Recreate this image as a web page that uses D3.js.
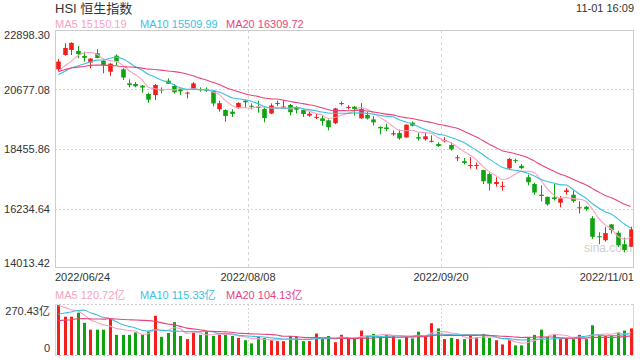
<!DOCTYPE html>
<html><head><meta charset="utf-8">
<script src="https://cdn.jsdelivr.net/npm/d3@7"></script>
<style>
body{margin:0;background:#fff}
svg{display:block}
text{font-family:Arial,"Liberation Sans","Noto Sans CJK SC",sans-serif}
</style>
</head><body>
<svg id="c" width="640" height="360"></svg>
<script>
// ---------- DATA ----------
const dates = [
"2022/06/24","2022/06/27","2022/06/28","2022/06/29","2022/06/30",
"2022/07/04","2022/07/05","2022/07/06","2022/07/07","2022/07/08",
"2022/07/11","2022/07/12","2022/07/13","2022/07/14","2022/07/15",
"2022/07/18","2022/07/19","2022/07/20","2022/07/21","2022/07/22",
"2022/07/25","2022/07/26","2022/07/27","2022/07/28","2022/07/29",
"2022/08/01","2022/08/02","2022/08/03","2022/08/04","2022/08/05",
"2022/08/08","2022/08/09","2022/08/10","2022/08/11","2022/08/12",
"2022/08/15","2022/08/16","2022/08/17","2022/08/18","2022/08/19",
"2022/08/22","2022/08/23","2022/08/24","2022/08/25","2022/08/26",
"2022/08/29","2022/08/30","2022/08/31","2022/09/01","2022/09/02",
"2022/09/05","2022/09/06","2022/09/07","2022/09/08","2022/09/09",
"2022/09/13","2022/09/14","2022/09/15","2022/09/16",
"2022/09/19","2022/09/20","2022/09/21","2022/09/22","2022/09/23",
"2022/09/26","2022/09/27","2022/09/28","2022/09/29","2022/09/30",
"2022/10/03","2022/10/05","2022/10/06","2022/10/07",
"2022/10/10","2022/10/11","2022/10/12","2022/10/13","2022/10/14",
"2022/10/17","2022/10/18","2022/10/19","2022/10/20","2022/10/21",
"2022/10/24","2022/10/25","2022/10/26","2022/10/27","2022/10/28",
"2022/10/31","2022/11/01"];

const open = [21431,21965,22151,22114,21928, 21680,22029,21752,21341,21941,
21430,20907,20882,20820,20508, 20470,20680,21006,20808,20683,
20540,20658,20690,20700,20620, 19940,19912,19850,20010,20260,
20070,20030,19950,19780,20150, 20020,20098,20010,19912,19700,
19640,19600,19525,19420,20140, 20000,20035,19600,19725,19560,
19280,19260,19000,19050,18890, 19440,18900,18820,18740,
18640,18740,18605,18120,18000, 17820,17830,17670,17520,17150,
17050,17735,18040,17830, 17400,17150,16750,16670,16650,
16450,16850,16750,16260,16300, 15870,15200,15050,15640,15330,
14900,14810];
const high = [21820,22400,22440,22300,22088, 21842,22177,21778,21655,21990,
21468,21056,20957,20845,20558, 20880,20757,21093,20882,20720,
20595,20957,20757,20760,20640, 20260,19937,19937,20200,20284,
20160,20260,20000,20160,20260, 20260,20136,20060,19937,19850,
19800,19700,19560,19990,20230, 20090,20060,20170,19850,19680,
19300,19400,19150,19180,19380, 19480,19060,19060,18965,
18700,18900,18700,18230,18120, 18150,17950,17680,17580,17400,
17250,18120,18100,17900, 17500,17200,17100,16680,17150,
16700,17000,16900,16500,16330, 15950,15350,15550,15650,15400,
15150,15550];
const low = [21330,21940,21965,21841,21715, 21468,21842,21281,21181,21580,
21031,20757,20757,20558,20184, 20285,20533,20882,20533,20470,
20346,20658,20595,20590,20050, 19850,19476,19650,19960,20010,
19937,19810,19450,19760,20060, 19980,19712,19780,19650,19660,
19575,19330,19150,19380,20080, 19930,19700,19580,19560,19330,
19000,19120,18950,18800,18870, 19300,18770,18770,18700,
18540,18700,18400,18000,17880, 17725,17700,17150,16900,17050,
16900,17700,17930,17700, 17100,16750,16500,16340,16530,
16280,16750,16450,16050,16150, 15100,14900,15000,15300,14800,
14600,14800];
const close = [21719,22229,22418,21996,21860, 21830,21853,21587,21643,21725,
21124,20845,20797,20751,20297, 20846,20661,20890,20575,20609,
20562,20905,20670,20622,20156, 20165,19689,19767,20174,20201,
20045,20003,19610,20082,20175, 20040,19830,19922,19763,19773,
19656,19503,19268,19968,20170, 20023,19949,19954,19597,19452,
19225,19202,19044,18854,19362, 19326,18847,18930,18762,
18565,18781,18444,18147,17933, 17855,17860,17250,17165,17223,
17079,18087,18012,17740, 17216,16832,16701,16389,16587,
16612,16914,16511,16280,16211, 15180,15165,15317,15428,14863,
14687,15455];
// closes of the 19 sessions before the first date (needed for the moving averages)
const preClose = [20697,21124,21415,21294,21082,21653,21531,22014,21869,21806,
21067,21068,21308,21075,21075,21164,21559,21008,21273];

const volume = [270.43,207,207,229,174, 137,137,137,199,109,
109,109,122,109,128, 212,98,119,178,103,
86,122,109,128,103, 109,109,103,92,80,
63,98,92,80,75, 75,103,98,75,75,
116,90,103,69,109, 90,90,132,103,114,
103,109,103,84,103, 90,126,103,172,
144,86,92,86,86, 103,96,114,92,80,
57,80,52,52, 96,109,137,98,114,
86,92,86,109,86, 161,109,103,103,122,
132,144];
// turnover of the 19 sessions before the first date (for the volume averages)
const preVolume = [140,160,130,150,170,145,155,135,165,150,
140,150,145,155,280,250,270,260,280];

const dateTicks = ["2022/06/24","2022/08/08","2022/09/20","2022/11/01"];
const priceTicks = [22898.30,20677.08,18455.86,16234.64,14013.42];
const volTicks = ["270.43亿","0"];
const maNames = ["MA5","MA10","MA20"];
const maPeriods = [5,10,20];
const maLast = ["15150.19","15509.99","16309.72"];
const volMaLast = ["120.72亿","115.33亿","104.13亿"];
const titleText = "HSI 恒生指数";
const timeText = "11-01 16:09";

// ---------- STYLE ----------
const RED = "#f31f1c", GREEN = "#0fa30f";
const maColors = ["#f7a1c4","#3ec0e2","#e8457e"];
const L = 55, R = 634, T = 30, B = 268;
const VT = 305, VB = 355;

const svg = d3.select("#c");
const x = d3.scaleBand().domain(dates).range([L, R]);
const bw = x.bandwidth();
const cx = d => x(d) + bw / 2;
const y = d3.scaleLinear().domain([priceTicks[4], priceTicks[0]]).range([B, T]);
const vy = d3.scaleLinear().domain([0, 270.43]).range([VB, VT]);

const rows = dates.map((d, i) => ({d, o: open[i], h: high[i], l: low[i], c: close[i], v: volume[i]}));
const up = r => r.c >= r.o;

function ma(series, pre, n) {
  const all = pre.concat(series);
  return series.map((_, i) => {
    const end = i + pre.length;
    return d3.mean(all.slice(end - n + 1, end + 1));
  });
}

// ---------- HEADER ----------
svg.append("text").attr("x", L).attr("y", 13).attr("font-size", 13).attr("fill", "#333").text(titleText);
svg.append("text").attr("x", R).attr("y", 12).attr("text-anchor", "end").attr("font-size", 11).attr("fill", "#333").text(timeText);

const legX = [55, 140, 226];
maNames.forEach((n, k) => {
  svg.append("text").attr("x", legX[k]).attr("y", 28).attr("font-size", 11).attr("fill", maColors[k]).text(n + " " + maLast[k]);
  svg.append("text").attr("x", legX[k]).attr("y", 299).attr("font-size", 11).attr("fill", maColors[k]).text(n + " " + volMaLast[k]);
});

// ---------- PRICE PANEL ----------
// grid
const gridIdx = [dates.indexOf(dateTicks[1]), dates.indexOf(dateTicks[2])];
priceTicks.slice(1, 4).forEach(t => {
  svg.append("line").attr("x1", L).attr("x2", R).attr("y1", Math.round(y(t)) + 0.5).attr("y2", Math.round(y(t)) + 0.5)
    .attr("stroke", "#d6d6d6").attr("stroke-dasharray", "2,2");
});
gridIdx.forEach(i => {
  const gx = Math.round(x(dates[i])) + 0.5;
  svg.append("line").attr("x1", gx).attr("x2", gx).attr("y1", T).attr("y2", B).attr("stroke", "#d6d6d6").attr("stroke-dasharray", "3,3");
  svg.append("line").attr("x1", gx).attr("x2", gx).attr("y1", VT - 1).attr("y2", VB).attr("stroke", "#d6d6d6").attr("stroke-dasharray", "2,2");
});

// watermark
svg.append("text").attr("x", 632).attr("y", 252).attr("text-anchor", "end").attr("font-size", 12).attr("fill", "#cfcfcf").text("sina.com");

// candles
const cw = 4.6;
const cg = svg.append("g");
cg.selectAll("line").data(rows).join("line")
  .attr("x1", r => Math.round(cx(r.d)) + 0.5).attr("x2", r => Math.round(cx(r.d)) + 0.5)
  .attr("y1", r => y(r.h)).attr("y2", r => y(r.l))
  .attr("stroke", r => up(r) ? RED : GREEN).attr("stroke-width", 1);
cg.selectAll("rect").data(rows).join("rect")
  .attr("x", r => Math.round(cx(r.d)) + 0.5 - cw / 2).attr("width", cw)
  .attr("y", r => y(Math.max(r.o, r.c)))
  .attr("height", r => Math.max(1, Math.abs(y(r.o) - y(r.c))))
  .attr("fill", r => up(r) ? RED : GREEN);

// MA lines (price)
svg.append("clipPath").attr("id", "pc").append("rect").attr("x", L).attr("y", T).attr("width", R - L).attr("height", B - T);
maPeriods.forEach((n, k) => {
  const vals = ma(close, preClose, n);
  const line = d3.line().x((v, i) => cx(dates[i])).y(v => y(v)).curve(d3.curveMonotoneX);
  svg.append("path").attr("d", line(vals)).attr("fill", "none").attr("stroke", maColors[k]).attr("stroke-width", 1.1).attr("clip-path", "url(#pc)");
});

// frame
svg.append("rect").attr("x", L + 0.5).attr("y", T + 0.5).attr("width", R - L - 1).attr("height", B - T - 1)
  .attr("fill", "none").attr("stroke", "#cccccc");

// y labels
priceTicks.forEach((t, k) => {
  let yy = y(t) + 4;
  if (k === 0) yy = T + 9;
  if (k === priceTicks.length - 1) yy = B - 1;
  svg.append("text").attr("x", 50).attr("y", yy).attr("text-anchor", "end").attr("font-size", 11).attr("fill", "#333").text(t.toFixed(2));
});

// date labels
dateTicks.forEach((d, k) => {
  let xx = x(d), anchor = "middle";
  if (k === 0) { xx = L; anchor = "start"; }
  else if (k === dateTicks.length - 1) { xx = R; anchor = "end"; }
  svg.append("text").attr("x", xx).attr("y", 281).attr("text-anchor", anchor).attr("font-size", 11).attr("fill", "#333").text(d);
});

// ---------- VOLUME PANEL ----------
const bwv = 3;
svg.append("g").selectAll("rect").data(rows).join("rect")
  .attr("x", r => Math.round(cx(r.d)) + 0.5 - bwv / 2).attr("width", bwv)
  .attr("y", r => vy(r.v)).attr("height", r => VB - vy(r.v))
  .attr("fill", r => up(r) ? RED : GREEN);

svg.append("clipPath").attr("id", "vc").append("rect").attr("x", L).attr("y", VT - 2).attr("width", R - L).attr("height", VB - VT + 2);
maPeriods.forEach((n, k) => {
  const vals = ma(volume, preVolume, n);
  const line = d3.line().x((v, i) => cx(dates[i])).y(v => vy(v)).curve(d3.curveMonotoneX);
  svg.append("path").attr("d", line(vals)).attr("fill", "none").attr("stroke", maColors[k]).attr("stroke-width", 1.1).attr("clip-path", "url(#vc)");
});

// volume frame
[[VT - 1], [VB]].forEach(([yy]) => {
  svg.append("line").attr("x1", L).attr("x2", R).attr("y1", yy + 0.5).attr("y2", yy + 0.5).attr("stroke", "#cccccc").attr("stroke-dasharray", "2,2");
});
[L, R - 1].forEach(xx => {
  svg.append("line").attr("x1", xx + 0.5).attr("x2", xx + 0.5).attr("y1", VT - 1).attr("y2", VB).attr("stroke", "#d8d8d8");
});

svg.append("text").attr("x", 50).attr("y", 315).attr("text-anchor", "end").attr("font-size", 11).attr("fill", "#333").text(volTicks[0]);
svg.append("text").attr("x", 50).attr("y", 352).attr("text-anchor", "end").attr("font-size", 11).attr("fill", "#333").text(volTicks[1]);
</script>
</body></html>
